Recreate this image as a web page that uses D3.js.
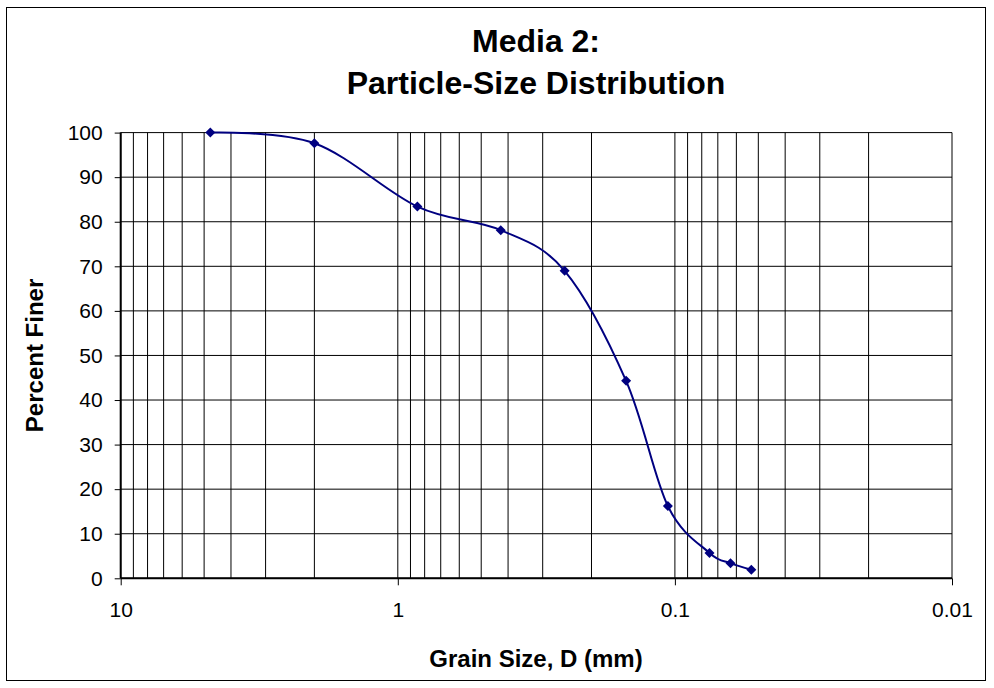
<!DOCTYPE html>
<html lang="en">

<head>
  <meta charset="UTF-8" />
  <title>Media 2: Particle-Size Distribution</title>
  <script src="https://d3js.org/d3.v7.js"></script>
  <style>
    body { margin: 0; background: #fff; }
    text { font-family: Arial, "Liberation Sans", sans-serif; }
  </style>
</head>

<body>
  <svg></svg>
</body>

<script>
  // sieve openings (mm) and percent passing
  const grainSize = [4.75, 2.0, 0.85, 0.425, 0.25, 0.15, 0.106, 0.075, 0.063, 0.053];
  const percentFiner = [100, 97.6, 83.4, 78.1, 69.0, 44.3, 16.2, 5.7, 3.4, 1.9];
  const xTicks = [10, 1, 0.1, 0.01];
  const yTicks = [0, 10, 20, 30, 40, 50, 60, 70, 80, 90, 100];

  const width = 994, height = 688;
  const plot = { left: 120.7, right: 952, top: 132.6, bottom: 578.3 };

  const svg = d3.select('svg')
    .attr('width', width)
    .attr('height', height);

  // outer chart frame
  svg.append('rect')
    .attr('x', 6.5).attr('y', 7.5)
    .attr('width', 979).attr('height', 673)
    .attr('fill', 'white')
    .attr('stroke', 'black')
    .attr('stroke-width', 1);

  let x = d3.scaleLog().domain([10, 0.01]).range([plot.left, plot.right]);
  let y = d3.scaleLinear().domain([0, 100]).range([plot.bottom, plot.top]);

  // minor + major vertical gridlines (1..9 in every decade)
  let vLines = [];
  [1, 0.1, 0.01].forEach(dec => {
    for (let k = 1; k <= 9; k++) vLines.push(dec * k);
  });
  vLines.push(10);

  svg.append('g')
    .selectAll('line')
    .data(vLines)
    .join('line')
    .attr('x1', d => x(d)).attr('x2', d => x(d))
    .attr('y1', plot.top).attr('y2', plot.bottom)
    .attr('stroke', 'black')
    .attr('stroke-width', 1);

  svg.append('g')
    .selectAll('line')
    .data(yTicks)
    .join('line')
    .attr('x1', plot.left).attr('x2', plot.right)
    .attr('y1', d => y(d)).attr('y2', d => y(d))
    .attr('stroke', 'black')
    .attr('stroke-width', 1);

  // axes
  let xAxis = d3.axisBottom(x)
    .tickValues(xTicks)
    .tickFormat(d => String(d))
    .tickSize(7)
    .tickPadding(17);

  let yAxis = d3.axisLeft(y)
    .tickValues(yTicks)
    .tickSize(6)
    .tickPadding(12);

  let gx = svg.append('g')
    .attr('transform', 'translate(0,' + plot.bottom + ')')
    .call(xAxis);

  let gy = svg.append('g')
    .attr('transform', 'translate(' + plot.left + ',0)')
    .call(yAxis);

  [gx, gy].forEach(g => {
    g.select('.domain').attr('stroke', 'black').attr('stroke-width', 2);
    g.selectAll('.tick line').attr('stroke', 'black');
    g.selectAll('.tick text')
      .attr('fill', 'black')
      .style('font-size', '21px');
  });
  gy.select('.domain').attr('d', 'M0,' + plot.top + 'V' + plot.bottom);
  gx.select('.domain').attr('d', 'M' + plot.left + ',0H' + plot.right);

  // data line + markers
  const pts = grainSize.map((d, i) => [x(d), y(percentFiner[i])]);

  svg.append('path')
    .datum(pts)
    .attr('fill', 'none')
    .attr('stroke', '#000080')
    .attr('stroke-width', 2)
    .attr('d', d3.line().curve(d3.curveCardinal.tension(0)));

  svg.selectAll('.marker')
    .data(pts)
    .join('path')
    .classed('marker', true)
    .attr('transform', d => 'translate(' + d[0] + ',' + d[1] + ') rotate(45)')
    .attr('d', d3.symbol().type(d3.symbolSquare).size(50))
    .attr('fill', '#000080');

  // titles
  const title = svg.append('text')
    .attr('text-anchor', 'middle')
    .style('font-size', '32px')
    .style('font-weight', 'bold');
  title.append('tspan').attr('x', 536).attr('y', 52).text('Media 2:');
  title.append('tspan').attr('x', 536).attr('y', 94).text('Particle-Size Distribution');

  svg.append('text')
    .attr('x', 536).attr('y', 667)
    .attr('text-anchor', 'middle')
    .style('font-size', '24px')
    .style('font-weight', 'bold')
    .text('Grain Size, D (mm)');

  svg.append('text')
    .attr('transform', 'translate(43,' + (plot.top + plot.bottom) / 2 + ') rotate(-90)')
    .attr('text-anchor', 'middle')
    .style('font-size', '24px')
    .style('font-weight', 'bold')
    .text('Percent Finer');
</script>

</html>
